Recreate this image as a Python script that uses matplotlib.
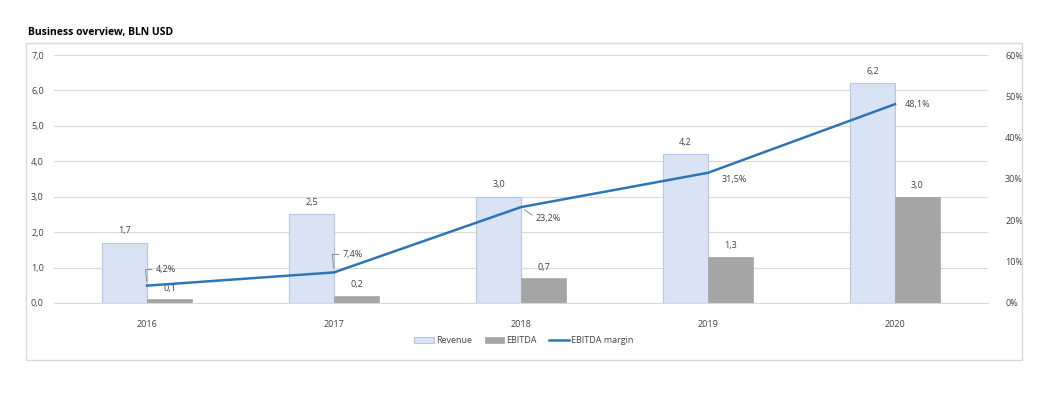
import numpy as np
import matplotlib
matplotlib.use("Agg")
import matplotlib.pyplot as plt
from matplotlib.patches import Rectangle

plt.rcParams['font.family'] = ['Open Sans', 'DejaVu Sans']

# Chart data
years = ["2016", "2017", "2018", "2019", "2020"]
revenue = [1.7, 2.5, 3.0, 4.2, 6.2]
ebitda = [0.1, 0.2, 0.7, 1.3, 3.0]
margin = [4.2, 7.4, 23.2, 31.5, 48.1]
left_ticks = [0, 1, 2, 3, 4, 5, 6, 7]
right_ticks = [0, 10, 20, 30, 40, 50, 60]

# Colours
REV_FILL = "#DAE3F3"
REV_EDGE = "#B4C7E7"
EBITDA_FILL = "#A5A5A5"
LINE_COL = "#2E75B6"
GRID_COL = "#D9D9D9"
TEXT_COL = "#404040"

fig = plt.figure(figsize=(10.54, 3.94), dpi=100)

# Outer frame of the chart area
fig.patches.append(Rectangle((0.0247, 0.0863), 0.945, 0.8046, transform=fig.transFigure,
                             fill=False, edgecolor=GRID_COL, linewidth=1.0))
fig.text(0.027, 0.918, "Business overview, BLN USD", fontsize=7.5, fontweight="bold",
         color="#000000", va="center", ha="left")

ax = fig.add_axes([0.0508, 0.2310, 0.8870, 0.6294])
x = np.arange(len(years))
w = 0.24

ax.bar(x - w / 2, revenue, w, color=REV_FILL, edgecolor=REV_EDGE, linewidth=0.8,
       label="Revenue", zorder=2)
ax.bar(x + w / 2, ebitda, w, color=EBITDA_FILL, edgecolor=EBITDA_FILL, linewidth=0.5,
       label="EBITDA", zorder=2)

for xi, v in zip(x, revenue):
    ax.annotate(f"{v:.1f}".replace(".", ","), (xi - w / 2, v), xytext=(0, 12),
                textcoords="offset pixels", ha="center", va="center",
                fontsize=6.5, color=TEXT_COL)
for xi, v in zip(x, ebitda):
    ax.annotate(f"{v:.1f}".replace(".", ","), (xi + w / 2, v), xytext=(0, 11),
                textcoords="offset pixels", ha="center", va="center",
                fontsize=6.5, color=TEXT_COL)

ax.set_xlim(-0.5, len(years) - 0.5)
ax.set_ylim(0, 7)
ax.set_yticks(left_ticks)
ax.set_yticklabels([f"{t:.1f}".replace(".", ",") for t in left_ticks])
ax.set_xticks(x)
ax.set_xticklabels(years)
ax.grid(axis="y", color=GRID_COL, linewidth=0.8, zorder=0)
ax.set_axisbelow(True)
for s in ["top", "right", "left"]:
    ax.spines[s].set_visible(False)
ax.spines["bottom"].set_color(GRID_COL)
ax.tick_params(axis="both", length=0, labelsize=6.5, colors=TEXT_COL)
ax.tick_params(axis="x", pad=12)
ax.tick_params(axis="y", pad=7)

ax2 = ax.twinx()
ax2.plot(x, margin, color=LINE_COL, linewidth=1.8, label="EBITDA margin", zorder=3)
ax2.set_ylim(0, 60)
ax2.set_yticks(right_ticks)
ax2.set_yticklabels([f"{t}%" for t in right_ticks])
for s in ax2.spines.values():
    s.set_visible(False)
ax2.tick_params(axis="y", length=0, labelsize=6.5, colors=TEXT_COL, pad=12)

# Margin labels with leader lines
offsets = [(9, 16), (9, 18), (15, -11), (14, -7), (10, 0)]
leaders = [True, True, True, False, False]
for xi, m, off, lead in zip(x, margin, offsets, leaders):
    arrow = None
    if lead:
        style = "arc3" if off[1] < 0 else "angle,angleA=0,angleB=95,rad=0"
        arrow = dict(arrowstyle="-", color="#8C8C8C", linewidth=0.7, shrinkA=1,
                     shrinkB=3, connectionstyle=style, relpos=(0, 0.5))
    ax2.annotate(f"{m:.1f}%".replace(".", ","), (xi, m), xytext=off,
                 textcoords="offset pixels", ha="left", va="center",
                 fontsize=6.5, color=TEXT_COL, arrowprops=arrow)

h1, l1 = ax.get_legend_handles_labels()
h2, l2 = ax2.get_legend_handles_labels()
fig.legend(h1 + h2, l1 + l2, loc="center", bbox_to_anchor=(0.497, 0.135), ncol=3,
           frameon=False, fontsize=6.5, handlelength=2.2, handleheight=0.6,
           columnspacing=1.4, handletextpad=0.2, labelcolor=TEXT_COL)

fig.savefig("out.png", dpi=100)
